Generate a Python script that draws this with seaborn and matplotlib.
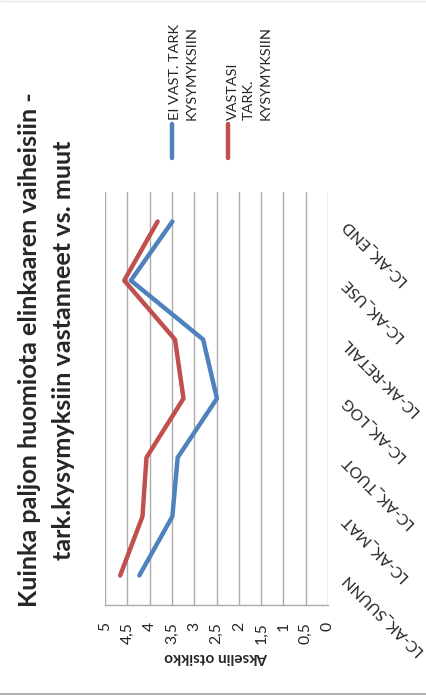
import numpy as np
import pandas as pd
import matplotlib
matplotlib.use("Agg")
import matplotlib.pyplot as plt
from matplotlib.lines import Line2D
import seaborn as sns

# ---------------- data ----------------
categories = ["LC-AK_SUUNN", "LC-AK_MAT", "LC-AK_TUOT", "LC-AK_LOG",
              "LC-AK-RETAIL", "LC-AK_USE", "LC-AK_END"]
series_names = ["EI VAST. TARK\nKYSYMYKSIIN", "VASTASI\nTARK.\nKYSYMYKSIIN"]
ei_vast = [4.23, 3.49, 3.37, 2.49, 2.80, 4.42, 3.49]
vastasi = [4.66, 4.16, 4.07, 3.24, 3.43, 4.57, 3.82]
value_ticks = [0, 0.5, 1, 1.5, 2, 2.5, 3, 3.5, 4, 4.5, 5]
value_tick_labels = ["0", "0,5", "1", "1,5", "2", "2,5", "3", "3,5", "4", "4,5", "5"]
title_lines = ["Kuinka paljon huomiota elinkaaren vaiheisiin -",
               "tark.kysymyksiin vastanneet vs. muut"]
axis_title = "Akselin otsikko"

colors = ["#4F81BD", "#C0504D"]

df = pd.DataFrame({
    "pos": list(range(len(categories))) * 2,
    "value": ei_vast + vastasi,
    "series": [series_names[0]] * len(categories) + [series_names[1]] * len(categories),
})

sns.set_style("white")
plt.rcParams["font.family"] = ["Lato", "DejaVu Sans"]

W, H = 426, 697
fig = plt.figure(figsize=(W / 100, H / 100), dpi=100)
renderer = fig.canvas.get_renderer()


def fit(s, target_px, **kw):
    t = fig.text(0, 0, s, fontsize=10, **kw)
    w = t.get_window_extent(renderer).width
    t.remove()
    return 10 * target_px / w


fs_title = fit(title_lines[0], 516, fontweight="bold")
fs_leg = fit("EI VAST. TARK", 95)
fs_axis = fit(axis_title, 104, fontweight="bold")
fs_cat = fit("LC-AK_END", 85)
fs_tick = fs_cat

ax = fig.add_axes([105 / W, 1 - 605 / H, (328 - 105) / W, (605 - 192) / H])

sns.lineplot(data=df, x="value", y="pos", hue="series", palette=colors,
             sort=False, orient="y", linewidth=3.2, ax=ax, legend=False)

ax.set_xlim(5, 0)
ax.set_ylim(-0.5, len(categories) - 0.5)

ax.set_xticks(value_ticks)
ax.set_xticklabels(value_tick_labels, rotation=90, va="top", ha="center", fontsize=fs_tick)
ax.tick_params(axis="x", length=0, pad=12)
ax.grid(axis="x", color="#ababab", linewidth=1.0)
ax.grid(axis="y", visible=False)
ax.set_axisbelow(True)

for s in ["top", "left", "right"]:
    ax.spines[s].set_visible(False)
ax.spines["bottom"].set_color("#ababab")
ax.spines["bottom"].set_linewidth(1.0)

ax.yaxis.tick_right()
ax.set_yticks(range(len(categories)))
ax.set_yticklabels(categories, rotation=135, ha="right", va="center",
                   rotation_mode="anchor", fontsize=fs_cat)
ax.tick_params(axis="y", length=0, pad=11)
ax.set_ylabel("")

ax.set_xlabel(axis_title, rotation=180, fontweight="bold", fontsize=fs_axis, va="center")
ax.xaxis.set_label_coords(0.5, (605 - 657) / (605 - 192))

# title (rotated)
fig.text(30 / W, 1 - 350 / H, title_lines[0], rotation=90, ha="center", va="center",
         fontsize=fs_title, fontweight="bold")
fig.text(64 / W, 1 - 350 / H, title_lines[1], rotation=90, ha="center", va="center",
         fontsize=fs_title, fontweight="bold")

# legend (rotated, manual)
leg_x = [171.5, 228.0]
leg_text_x = [183.0, 249.0]
for c, lx, tx, name in zip(colors, leg_x, leg_text_x, series_names):
    fig.add_artist(Line2D([lx / W, lx / W], [1 - 124 / H, 1 - 158 / H],
                          color=c, linewidth=3.2, solid_capstyle="round"))
    fig.text(tx / W, 1 - 120 / H, name, rotation=90, ha="center", va="bottom",
             fontsize=fs_leg, linespacing=1.45, multialignment="left")

# chart frame remnants
fig.add_artist(Line2D([0, 1], [1 - 694 / H, 1 - 694 / H], color="#a0a0a0", linewidth=1.2))
fig.add_artist(Line2D([0, 1], [1 - 0.5 / H, 1 - 0.5 / H], color="#e6e6e6", linewidth=1.0))

fig.savefig("out.png", dpi=100, facecolor="white")
